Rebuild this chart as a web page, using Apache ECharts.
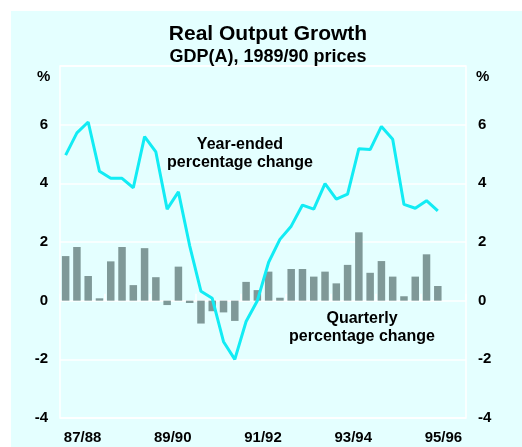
<!DOCTYPE html>
<html>
<head>
<meta charset="utf-8">
<script src="https://cdn.jsdelivr.net/npm/echarts@6/dist/echarts.min.js"></script>
<style>
html,body{margin:0;padding:0;background:#ffffff;}
#chart{width:522px;height:447px;}
</style>
</head>
<body>
<div id="chart"></div>
<script>
// Quarters from Sep-1987 to Jun-1996 (financial years 87/88 .. 95/96)
var quarters = [];
var qNames = ['Sep','Dec','Mar','Jun'];
for (var fy = 87; fy <= 95; fy++) {
  for (var q = 0; q < 4; q++) {
    var yr = q < 2 ? fy : fy + 1;
    quarters.push(qNames[q] + '-' + String(yr % 100).padStart(2, '0'));
  }
}
var yearLabels = ['87/88','88/89','89/90','90/91','91/92','92/93','93/94','94/95','95/96'];

var quarterlyChange = [1.52,1.83,0.84,0.08,1.34,1.83,0.53,1.79,0.80,-0.15,1.16,-0.08,
  -0.78,-0.36,-0.40,-0.69,0.64,0.36,0.99,0.10,1.08,1.08,0.82,0.99,
  0.59,1.22,2.33,0.95,1.35,0.82,0.15,0.82,1.58,0.50,null,null];

var yearEndedChange = [4.96,5.72,6.09,4.41,4.17,4.17,3.85,5.59,5.07,3.12,3.71,1.87,
  0.32,0.08,-1.40,-2.00,-0.71,0.00,1.31,2.09,2.54,3.26,3.12,3.99,
  3.46,3.63,5.18,5.15,5.94,5.50,3.28,3.15,3.41,3.06,null,null];

var yTicks = [-4,-2,0,2,4,6];

var FONT = 'Liberation Sans, Arial, sans-serif';
var chart = echarts.init(document.getElementById('chart'), null, {renderer:'canvas'});

var yAxisCommon = {
  type:'value', min:-4, max:8, interval:2,
  axisLine:{show:false}, axisTick:{show:false},
  axisLabel:{
    fontFamily:FONT, fontWeight:'bold', fontSize:15, color:'#000', margin:12,
    formatter:function(v){ return yTicks.indexOf(v) >= 0 ? String(v) : ''; }
  }
};

chart.setOption({
  backgroundColor:'#ffffff',
  animation:false,
  title:{
    text:'Real Output Growth',
    subtext:'GDP(A), 1989/90 prices',
    left:263, textAlign:'center', top:19, itemGap:3,
    textStyle:{fontFamily:FONT, fontWeight:'bold', fontSize:21, color:'#000'},
    subtextStyle:{fontFamily:FONT, fontWeight:'bold', fontSize:18, color:'#000'}
  },
  graphic:{elements:[
    {type:'rect', z:-100, shape:{x:11, y:11, width:511, height:436}, style:{fill:'#e4ffff'}},
    {type:'text', left:37, top:69, style:{text:'%', font:'bold 15px ' + FONT, fill:'#000'}},
    {type:'text', left:476, top:69, style:{text:'%', font:'bold 15px ' + FONT, fill:'#000'}},
    {type:'text', x:240, y:154, style:{text:'Year-ended\npercentage change', font:'bold 16px ' + FONT, fill:'#000', textAlign:'center', textVerticalAlign:'middle', lineHeight:18}, z:10},
    {type:'text', x:362, y:328, style:{text:'Quarterly\npercentage change', font:'bold 16px ' + FONT, fill:'#000', textAlign:'center', textVerticalAlign:'middle', lineHeight:18}, z:10}
  ]},
  grid:{left:60, right:56, top:66, bottom:29, show:true, borderColor:'#ffffff', borderWidth:1.5, backgroundColor:'transparent'},
  xAxis:[
    {
      type:'category', data:quarters, boundaryGap:true,
      axisLine:{show:false},
      axisTick:{show:true, inside:true, length:7, interval:3, lineStyle:{color:'#ffffff', width:1.5}},
      axisLabel:{show:false},
      splitLine:{show:false}
    },
    {
      type:'category', data:yearLabels, boundaryGap:true, position:'bottom',
      axisLine:{show:false}, axisTick:{show:false},
      axisLabel:{interval:1, fontFamily:FONT, fontWeight:'bold', fontSize:15, color:'#000', margin:12}
    }
  ],
  yAxis:[
    Object.assign({}, yAxisCommon, {position:'left', splitLine:{show:true, lineStyle:{color:'#ffffff', width:1.5}}}),
    Object.assign({}, yAxisCommon, {position:'right', splitLine:{show:false}})
  ],
  series:[
    {
      name:'Quarterly percentage change', type:'bar', xAxisIndex:0, yAxisIndex:0,
      data:quarterlyChange, barWidth:7.5,
      itemStyle:{color:'#7f9998'}
    },
    {
      name:'Year-ended percentage change', type:'line', xAxisIndex:0, yAxisIndex:0,
      data:yearEndedChange, symbol:'none', smooth:false,
      lineStyle:{color:'#12ecf4', width:3}
    }
  ]
});
</script>
</body>
</html>
